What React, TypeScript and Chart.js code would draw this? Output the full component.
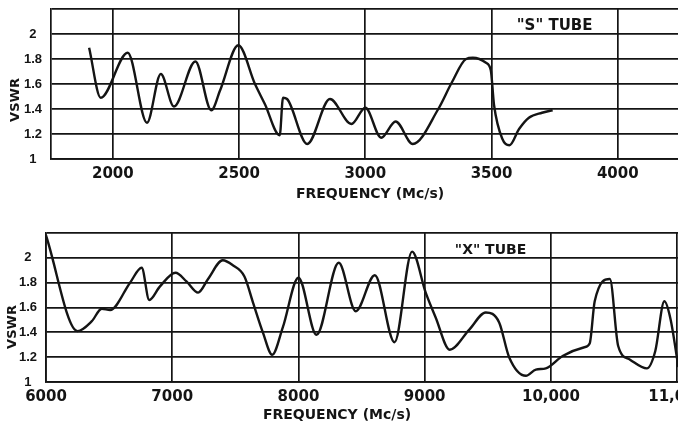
import { useEffect, useRef } from "react";
import { Chart, registerables } from "chart.js";

Chart.register(...registerables);

// ---- data ("S" tube) ----
const sFreq = [1906, 1952, 2059, 2135, 2190, 2242, 2327, 2390, 2425, 2497, 2563, 2602, 2661, 2674, 2690, 2770, 2860, 2945, 3000, 3063, 3120, 3188, 3289, 3342, 3399, 3426, 3478, 3497, 3510, 3543, 3571, 3609, 3648, 3700, 3742];
const sVswr = [1.89, 1.49, 1.85, 1.29, 1.68, 1.42, 1.78, 1.39, 1.55, 1.91, 1.60, 1.44, 1.19, 1.49, 1.48, 1.12, 1.48, 1.28, 1.41, 1.17, 1.30, 1.12, 1.40, 1.61, 1.80, 1.81, 1.77, 1.71, 1.43, 1.16, 1.11, 1.24, 1.33, 1.37, 1.39];

// ---- data ("X" tube) ----
const xFreq = [6000, 6250, 6363, 6442, 6508, 6666, 6758, 6818, 6903, 7026, 7113, 7205, 7284, 7400, 7480, 7572, 7640, 7718, 7792, 7876, 8000, 8143, 8319, 8454, 8605, 8761, 8900, 9008, 9087, 9198, 9352, 9484, 9590, 9669, 9802, 9881, 9960, 10093, 10265, 10307, 10347, 10467, 10533, 10627, 10760, 10827, 10899, 10947, 11010];
const xVswr = [2.18, 1.41, 1.49, 1.59, 1.58, 1.80, 1.92, 1.66, 1.77, 1.88, 1.81, 1.72, 1.83, 1.98, 1.94, 1.85, 1.64, 1.40, 1.22, 1.44, 1.84, 1.38, 1.96, 1.57, 1.86, 1.32, 2.05, 1.72, 1.52, 1.26, 1.42, 1.56, 1.48, 1.20, 1.05, 1.10, 1.11, 1.21, 1.28, 1.31, 1.65, 1.83, 1.29, 1.18, 1.11, 1.25, 1.65, 1.51, 1.12];

// ---- ticks ----
const yTickValues = [1, 1.2, 1.4, 1.6, 1.8, 2, 2.2];
const yTickLabels = ["1", "1.2", "1.4", "1.6", "1.8", "2", ""];
const sTickValues = [2000, 2500, 3000, 3500, 4000];
const sTickLabels = ["2000", "2500", "3000", "3500", "4000"];
const xTickValues = [6000, 7000, 8000, 9000, 10000, 11000];
const xTickLabels = ["6000", "7000", "8000", "9000", "10,000", "11,000"];

const yTitle = "VSWR";
const xTitle = "FREQUENCY (Mc/s)";
const sTubeLabel = '"S" TUBE';
const xTubeLabel = '"X" TUBE';

const INK = "#141414";

type PanelProps = {
  freq: number[];
  vswr: number[];
  xMin: number;
  xMax: number;
  xTicks: number[];
  xLabels: string[];
  width: number;
  height: number;
  top: number;
  chartLeft: number;
  chartTop: number;
  chartBottom: number;
  padRight: number;
  tubeLabel: string;
  tubeFont: number;
  tubeAt: { x: number; y: number };
  xTitleAt: { x: number; y: number };
  yTitleAt: { x: number; y: number };
};

function Panel(p: PanelProps) {
  const ref = useRef<HTMLCanvasElement | null>(null);
  useEffect(() => {
    if (!ref.current) return;
    const textPlugin = {
      id: "panelText",
      afterDraw(chart: any) {
        const ctx = chart.ctx as CanvasRenderingContext2D;
        ctx.save();
        ctx.fillStyle = INK;
        ctx.textAlign = "center";
        ctx.textBaseline = "middle";
        ctx.font = "bold 14px 'DejaVu Sans'";
        ctx.fillText(xTitle, p.xTitleAt.x, p.xTitleAt.y);
        const xs = chart.scales.x, ys = chart.scales.y;
        ctx.font = `bold ${p.tubeFont}px 'DejaVu Sans'`;
        ctx.fillText(p.tubeLabel, xs.getPixelForValue(p.tubeAt.x), ys.getPixelForValue(p.tubeAt.y));
        ctx.translate(p.yTitleAt.x, p.yTitleAt.y);
        ctx.rotate(-Math.PI / 2);
        ctx.font = "bold 13px 'DejaVu Sans'";
        ctx.fillText(yTitle, 0, 0);
        ctx.restore();
      },
    };
    const chart = new Chart(ref.current, {
      type: "line",
      data: {
        datasets: [
          {
            data: p.freq.map((f, i) => ({ x: f, y: p.vswr[i] })),
            borderColor: INK,
            borderWidth: 2.4,
            pointRadius: 0,
            fill: false,
            cubicInterpolationMode: "monotone",
          },
        ],
      },
      options: {
        animation: false,
        responsive: false,
        devicePixelRatio: 1,
        layout: { padding: { left: 0, right: p.padRight, top: p.chartTop, bottom: 0 } },
        plugins: { legend: { display: false }, tooltip: { enabled: false } },
        scales: {
          x: {
            type: "linear",
            min: p.xMin,
            max: p.xMax,
            afterBuildTicks: (s: any) => {
              s.ticks = p.xTicks.map((v) => ({ value: v }));
            },
            afterFit: (s: any) => {
              s.height = p.height - p.chartBottom;
              s.paddingLeft = 0;
              s.paddingRight = 0;
              s.paddingTop = 0;
              s.paddingBottom = 0;
            },
            grid: { color: INK, lineWidth: 1.7, drawTicks: false },
            border: { color: INK, width: 1.7 },
            ticks: {
              color: INK,
              padding: 6,
              autoSkip: false,
              maxRotation: 0,
              font: { family: "'DejaVu Sans'", weight: "bold", size: 15 },
              callback: (_v: any, i: number) => p.xLabels[i],
            },
          },
          y: {
            type: "linear",
            min: 1,
            max: 2.2,
            afterBuildTicks: (s: any) => {
              s.ticks = yTickValues.map((v) => ({ value: v }));
            },
            afterFit: (s: any) => {
              s.width = p.chartLeft;
              s.paddingLeft = 0;
              s.paddingRight = 0;
              s.paddingTop = 0;
              s.paddingBottom = 0;
            },
            grid: { color: INK, lineWidth: 1.7, drawTicks: false },
            border: { color: INK, width: 1.7 },
            ticks: {
              color: INK,
              padding: 9,
              crossAlign: "center",
              autoSkip: false,
              font: { family: "'Liberation Sans'", weight: "bold", size: 13 },
              callback: (_v: any, i: number) => yTickLabels[i],
            },
          },
        },
      },
      plugins: [textPlugin],
    } as any);
    return () => chart.destroy();
  }, []);
  return (
    <canvas
      ref={ref}
      width={p.width}
      height={p.height}
      style={{ position: "absolute", left: 0, top: p.top, width: p.width, height: p.height }}
    />
  );
}

export default function App() {
  return (
    <div
      style={{
        position: "fixed",
        left: 0,
        top: 0,
        width: 678,
        height: 425,
        overflow: "hidden",
        background: "#ffffff",
      }}
    >
      <Panel
        freq={sFreq}
        vswr={sVswr}
        xMin={1755}
        xMax={4500}
        xTicks={sTickValues}
        xLabels={sTickLabels}
        width={760}
        height={210}
        top={0}
        chartLeft={51}
        chartTop={9}
        chartBottom={159}
        padRight={16}
        tubeLabel={sTubeLabel}
        tubeFont={15}
        tubeAt={{ x: 3750, y: 2.06 }}
        xTitleAt={{ x: 370, y: 194 }}
        yTitleAt={{ x: 16, y: 100 }}
      />
      <Panel
        freq={xFreq}
        vswr={xVswr}
        xMin={6000}
        xMax={11300}
        xTicks={xTickValues}
        xLabels={xTickLabels}
        width={760}
        height={213}
        top={212}
        chartLeft={46}
        chartTop={21}
        chartBottom={170}
        padRight={45}
        tubeLabel={xTubeLabel}
        tubeFont={14}
        tubeAt={{ x: 9522, y: 2.06 }}
        xTitleAt={{ x: 337, y: 203 }}
        yTitleAt={{ x: 13, y: 115 }}
      />
    </div>
  );
}
